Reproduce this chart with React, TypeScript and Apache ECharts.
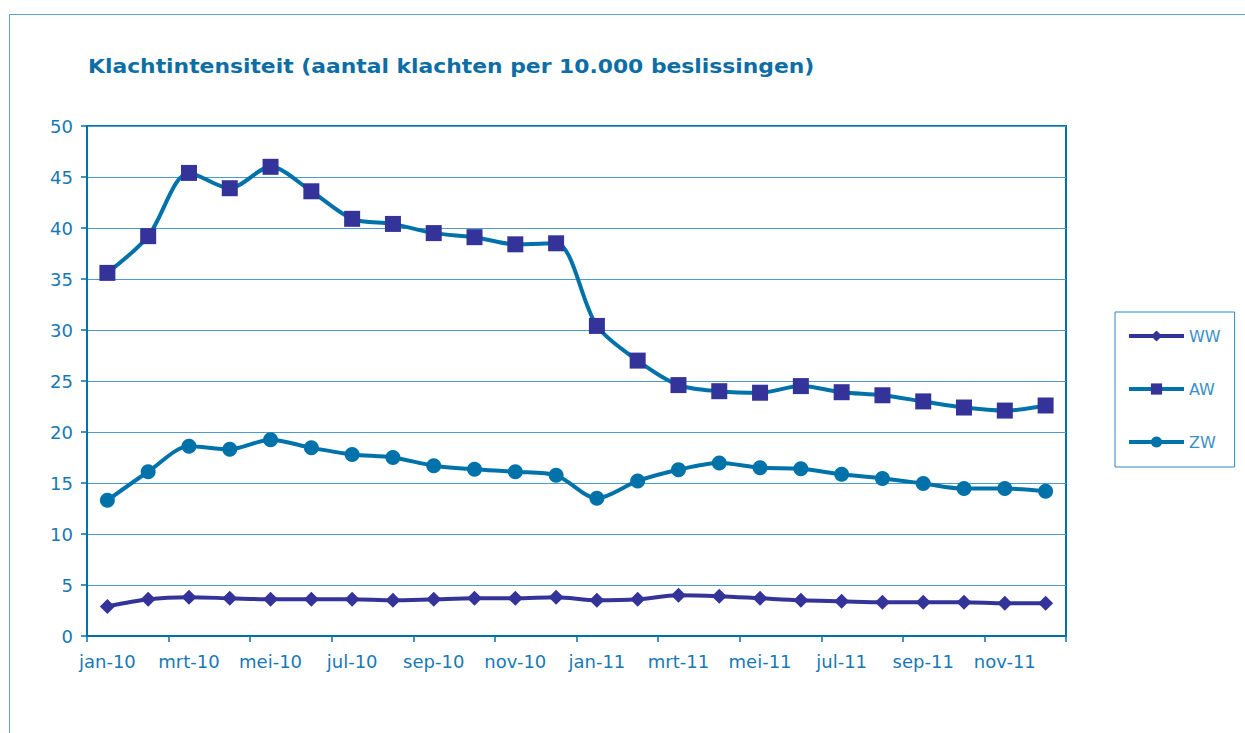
import React, { useEffect, useRef } from "react";
import * as echarts from "echarts";

const categories = [
  "jan-10", "feb-10", "mrt-10", "apr-10", "mei-10", "jun-10", "jul-10", "aug-10",
  "sep-10", "okt-10", "nov-10", "dec-10", "jan-11", "feb-11", "mrt-11", "apr-11",
  "mei-11", "jun-11", "jul-11", "aug-11", "sep-11", "okt-11", "nov-11", "dec-11",
];

const wwValues = [
  2.9, 3.6, 3.8, 3.7, 3.6, 3.6, 3.6, 3.5, 3.6, 3.7, 3.7, 3.8,
  3.5, 3.6, 4.0, 3.9, 3.7, 3.5, 3.4, 3.3, 3.3, 3.3, 3.2, 3.2,
];

const awValues = [
  35.6, 39.2, 45.4, 43.9, 46.0, 43.6, 40.9, 40.4, 39.5, 39.1, 38.4, 38.5,
  30.4, 27.0, 24.6, 24.0, 23.85, 24.5, 23.9, 23.6, 23.0, 22.4, 22.1, 22.6,
];

const zwValues = [
  13.3, 16.1, 18.6, 18.3, 19.25, 18.45, 17.8, 17.5, 16.7, 16.35, 16.1, 15.75,
  13.5, 15.2, 16.3, 16.95, 16.5, 16.4, 15.85, 15.45, 14.95, 14.45, 14.45, 14.2,
];

const seriesNames = ["WW", "AW", "ZW"];
const yTicks = { min: 0, max: 50, interval: 5 };
const titleText = "Klachtintensiteit (aantal klachten per 10.000 beslissingen)";

const PURPLE = "#333399";
const BLUE = "#0072aa";
const TEXT = "#1878b4";
const GRID = "#4b9ccc";
const FONT = "'DejaVu Sans', Verdana, sans-serif";

export default function App() {
  const ref = useRef<HTMLDivElement>(null);

  useEffect(() => {
    if (!ref.current) return;
    const chart = echarts.init(ref.current, undefined, { renderer: "svg" });
    chart.setOption({
      animation: false,
      backgroundColor: "#ffffff",
      textStyle: { fontFamily: FONT },
      graphic: [
        {
          type: "rect",
          shape: { x: 9.5, y: 14.5, width: 1260, height: 760 },
          style: { fill: "none", stroke: "#5aa5d2", lineWidth: 1 },
          silent: true,
        },
        {
          type: "text",
          x: 88,
          y: 67,
          scaleX: 1.15,
          style: {
            text: titleText,
            fill: "#0d6ea6",
            font: "bold 19px 'DejaVu Sans', Verdana, sans-serif",
            verticalAlign: "middle",
            align: "left",
          },
          silent: true,
        },
      ],
      legend: {
        orient: "vertical",
        left: 1115,
        top: 312,
        padding: [16, 14, 17, 12],
        itemWidth: 55,
        itemHeight: 14,
        itemGap: 37,
        borderColor: "#2a86c0",
        borderWidth: 1,
        lineStyle: { width: 4 },
        textStyle: { fontFamily: FONT, fontSize: 16, color: "#3a90c6" },
        data: seriesNames,
      },
      grid: {
        left: 87,
        right: 179,
        top: 126,
        bottom: 97,
        show: true,
        borderColor: BLUE,
        borderWidth: 2,
        containLabel: false,
      },
      xAxis: {
        type: "category",
        data: categories,
        boundaryGap: true,
        axisLine: { lineStyle: { color: BLUE, width: 2 } },
        axisTick: { show: true, interval: 1, length: 6, lineStyle: { color: BLUE, width: 1.5 } },
        axisLabel: {
          interval: 1,
          margin: 16,
          fontFamily: FONT,
          fontSize: 18,
          color: TEXT,
        },
        splitLine: { show: false },
      },
      yAxis: {
        type: "value",
        min: yTicks.min,
        max: yTicks.max,
        interval: yTicks.interval,
        axisLine: { show: true, lineStyle: { color: BLUE, width: 2 } },
        axisTick: { show: true, length: 6, lineStyle: { color: BLUE, width: 1.5 } },
        axisLabel: {
          margin: 14,
          fontFamily: FONT,
          fontSize: 18,
          color: TEXT,
        },
        splitLine: { show: true, lineStyle: { color: GRID, width: 1.2 } },
      },
      series: [
        {
          name: "WW",
          type: "line",
          data: wwValues,
          smooth: 0.3,
          symbol: "diamond",
          symbolSize: 15,
          lineStyle: { color: PURPLE, width: 4 },
          itemStyle: { color: PURPLE },
          z: 3,
        },
        {
          name: "AW",
          type: "line",
          data: awValues,
          smooth: 0.3,
          symbol: "rect",
          symbolSize: 16,
          lineStyle: { color: BLUE, width: 4 },
          itemStyle: { color: PURPLE },
          z: 3,
        },
        {
          name: "ZW",
          type: "line",
          data: zwValues,
          smooth: 0.3,
          symbol: "circle",
          symbolSize: 15,
          lineStyle: { color: BLUE, width: 4 },
          itemStyle: { color: BLUE },
          z: 3,
        },
      ],
    });
    return () => chart.dispose();
  }, []);

  return (
    <div
      ref={ref}
      style={{ position: "absolute", left: 0, top: 0, width: 1245, height: 733 }}
    />
  );
}
